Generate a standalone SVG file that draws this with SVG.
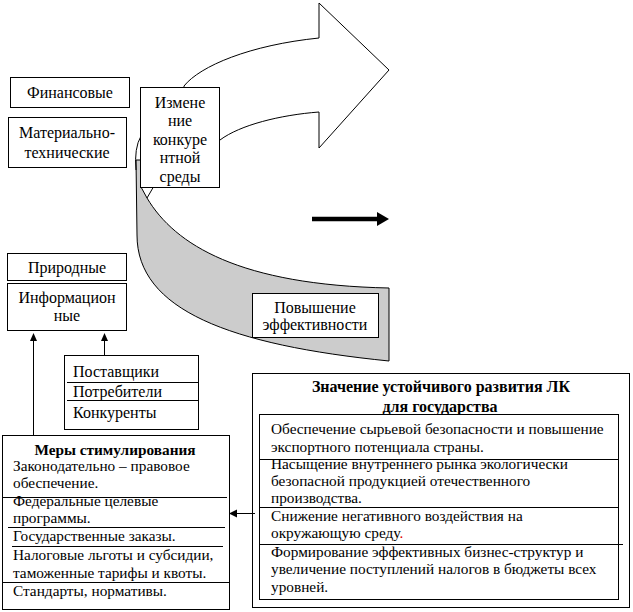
<svg xmlns="http://www.w3.org/2000/svg" width="633" height="612" viewBox="0 0 633 612">
<style>
  text { font-family: "Liberation Serif", "DejaVu Serif", serif; font-size: 16px; fill: #000; }
  .c { text-anchor: middle; }
  .b { font-weight: bold; }
  .s { font-size: 15.3px; }
  .box { fill: #fff; stroke: #000; stroke-width: 1; }
  .ln { stroke: #000; stroke-width: 1; fill: none; }
  .head { fill: #000; stroke: none; }
</style>
<rect width="633" height="612" fill="#fff"/>

<g id="big-arrow">
  <path d="M184,86 C200,66 250,45 319,38 L319,3 L389,70 L319,148 L319,112 C280,115 240,125 220,140 L184,140 Z" fill="#fff" stroke="#000" stroke-width="1"/>
</g>

<g id="curved-band">
  <path d="M136,160 L137,235 C137,310 230,345 389,361 L389,288 C240,285 175,245 147,198 L141,187 L141,160 Z" fill="#cccccc" stroke="#000" stroke-width="1"/>
  <path d="M141,136 Q134,148 136,170" class="ln"/>
  <path d="M147,198 L154,186" class="ln"/>
</g>

<g id="thick-arrow">
  <line x1="312" y1="219" x2="378" y2="219" stroke="#000" stroke-width="4.5"/>
  <polygon points="377,212 389,219 377,226" class="head"/>
</g>

<g id="finansovye">
  <rect x="10.5" y="77.5" width="119" height="30" class="box"/>
  <text x="70" y="98" class="c">Финансовые</text>
</g>

<g id="materialno">
  <rect x="8.5" y="117.5" width="118" height="50" class="box"/>
  <text x="67" y="138" class="c">Материально-</text>
  <text x="67" y="158" class="c">технические</text>
</g>

<g id="izmenenie">
  <rect x="140.5" y="87.5" width="79" height="100" class="box"/>
  <text x="180" y="108" class="c">Измене</text>
  <text x="180" y="126" class="c">ние</text>
  <text x="180" y="145" class="c">конкуре</text>
  <text x="180" y="163" class="c">нтной</text>
  <text x="180" y="182" class="c">среды</text>
</g>

<g id="prirodnye">
  <rect x="7.5" y="253.5" width="119" height="27" class="box"/>
  <text x="67" y="273" class="c">Природные</text>
</g>

<g id="informacionnye">
  <rect x="7.5" y="283.5" width="119" height="47" class="box"/>
  <text x="67" y="303" class="c">Информацион</text>
  <text x="67" y="321" class="c">ные</text>
</g>

<g id="povyshenie">
  <rect x="252.5" y="293.5" width="126" height="44" class="box"/>
  <text x="315" y="313" class="c">Повышение</text>
  <text x="315" y="330" class="c">эффективности</text>
</g>

<g id="postavshiki">
  <rect x="64.5" y="355.5" width="134" height="74" class="box"/>
  <line x1="67" y1="382.5" x2="198" y2="382.5" class="ln"/>
  <line x1="67" y1="400.5" x2="198" y2="400.5" class="ln"/>
  <text x="73" y="377">Поставщики</text>
  <text x="73" y="397">Потребители</text>
  <text x="73" y="418">Конкуренты</text>
</g>

<g id="mery">
  <rect x="2.5" y="435.5" width="227" height="174" class="box"/>
  <text x="115" y="455" class="c b s">Меры стимулирования</text>
  <text x="13" y="471" class="s">Законодательно – правовое</text>
  <text x="13" y="488" class="s">обеспечение.</text>
  <line x1="3" y1="497.5" x2="227" y2="497.5" class="ln"/>
  <text x="13" y="506" class="s">Федеральные целевые</text>
  <text x="13" y="523" class="s">программы.</text>
  <line x1="8" y1="527.5" x2="225" y2="527.5" class="ln"/>
  <text x="13" y="541" class="s">Государственные заказы.</text>
  <line x1="12" y1="546.5" x2="223" y2="546.5" class="ln"/>
  <text x="13" y="560" class="s">Налоговые льготы и субсидии,</text>
  <text x="13" y="578" class="s">таможенные тарифы и квоты.</text>
  <line x1="3" y1="582.5" x2="229" y2="582.5" class="ln"/>
  <text x="13" y="596" class="s">Стандарты, нормативы.</text>
</g>

<g id="znachenie">
  <rect x="252.5" y="373.5" width="377" height="234" class="box"/>
  <text x="441" y="392" class="c b">Значение устойчивого развития ЛК</text>
  <text x="440" y="412" class="c b">для государства</text>
  <rect x="259.5" y="414.5" width="359" height="185" class="box"/>
  <text x="271" y="434" class="s">Обеспечение сырьевой безопасности и повышение</text>
  <text x="271" y="452" class="s">экспортного потенциала страны.</text>
  <line x1="259" y1="459.5" x2="618" y2="459.5" class="ln"/>
  <text x="271" y="469" class="s">Насыщение внутреннего рынка экологически</text>
  <text x="271" y="486" class="s">безопасной продукцией отечественного</text>
  <text x="271" y="503" class="s">производства.</text>
  <line x1="259" y1="507.5" x2="618" y2="507.5" class="ln"/>
  <text x="271" y="521" class="s">Снижение негативного воздействия на</text>
  <text x="271" y="538" class="s">окружающую среду<tspan fill="#e00000">.</tspan></text>
  <line x1="259" y1="544.5" x2="623" y2="544.5" class="ln"/>
  <text x="271" y="557" class="s">Формирование эффективных бизнес-структур  и</text>
  <text x="271" y="574" class="s">увеличение поступлений налогов в бюджеты всех</text>
  <text x="271" y="592" class="s">уровней.</text>
</g>

<g id="connectors">
  <line x1="33.5" y1="340" x2="33.5" y2="435" class="ln"/>
  <polygon points="33.5,333 30,341 37,341" class="head"/>
  <line x1="104.5" y1="340" x2="104.5" y2="355" class="ln"/>
  <polygon points="104.5,333 101,341 108,341" class="head"/>
  <line x1="236" y1="513.5" x2="255" y2="513.5" class="ln"/>
  <polygon points="229,513.5 237,509.5 237,517.5" class="head"/>
</g>
</svg>
